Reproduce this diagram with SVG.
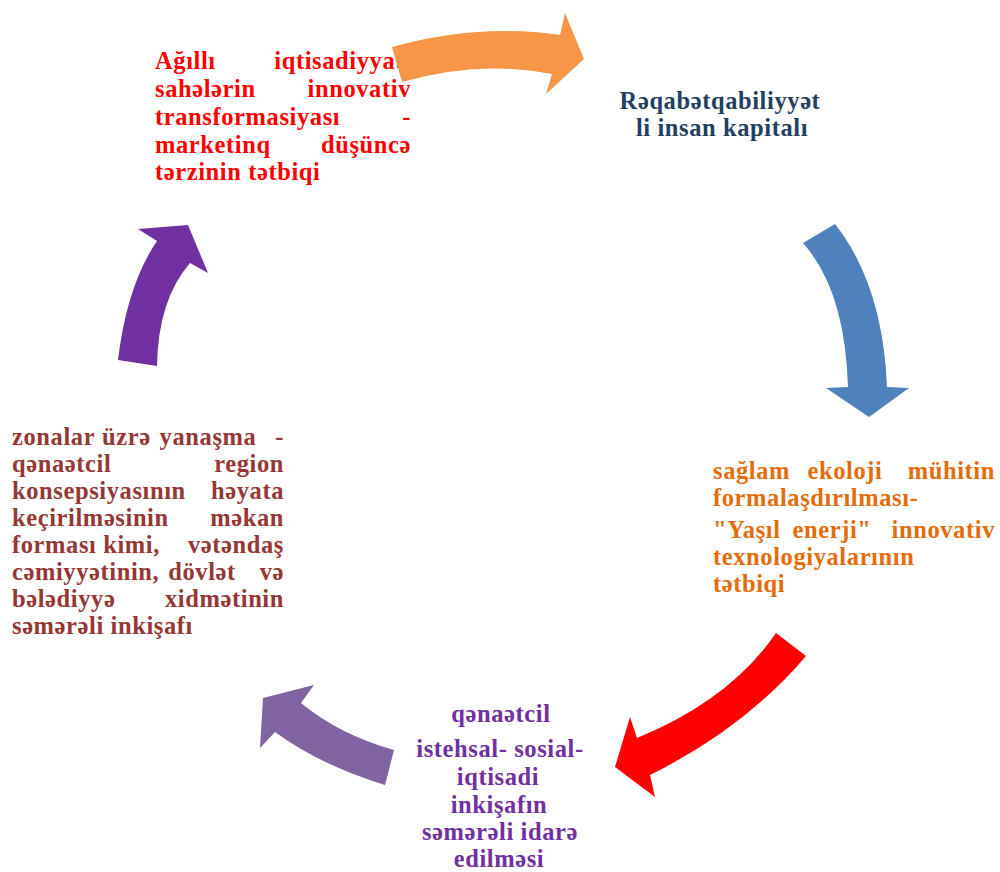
<svg xmlns="http://www.w3.org/2000/svg" width="1000" height="872" viewBox="0 0 1000 872">
<style>
text{font-family:"Liberation Serif","Times New Roman",serif;font-weight:700;font-size:24.5px;letter-spacing:0.6px}
.e{text-anchor:end}
.m{text-anchor:middle}
.n1{fill:#FF0000}
.n2{fill:#243F60}
.n3{fill:#E46C0A}
.n4{fill:#7030A0}
.n5{fill:#953735}
</style>
<rect width="1000" height="872" fill="#FFFFFF"/>
<g id="node-smart-economy" class="n1">
<text x="155" y="69">Ağıllı</text><text x="404" y="69" class="e">iqtisadiyyat</text>
<text x="155" y="97">sahələrin</text><text x="411" y="97" class="e">innovativ</text>
<text x="155" y="125">transformasiyası</text><text x="411" y="125" class="e">-</text>
<text x="155" y="153">marketinq</text><text x="411" y="153" class="e">düşüncə</text>
<text x="155" y="180">tərzinin tətbiqi</text>
</g>
<g id="node-human-capital" class="n2">
<text x="720" y="109" class="m">Rəqabətqabiliyyət</text>
<text x="722" y="136" class="m">li insan kapitalı</text>
</g>
<g id="node-ecology" class="n3">
<text x="713" y="479">sağlam</text><text x="845" y="479" class="m">ekoloji</text><text x="995" y="479" class="e">mühitin</text>
<text x="713" y="506">formalaşdırılması-</text>
<text x="713" y="538">"Yaşıl</text><text x="832" y="538" class="m">enerji"</text><text x="995" y="538" class="e">innovativ</text>
<text x="713" y="565">texnologiyalarının</text>
<text x="713" y="592">tətbiqi</text>
</g>
<g id="node-production" class="n4">
<text x="501" y="722" class="m">qənaətcil</text>
<text x="500" y="757" class="m">istehsal- sosial-</text>
<text x="498" y="785" class="m">iqtisadi</text>
<text x="499" y="813" class="m">inkişafın</text>
<text x="500" y="840" class="m">səmərəli idarə</text>
<text x="499" y="867" class="m">edilməsi</text>
</g>
<g id="node-zonal" class="n5">
<text x="12" y="445">zonalar</text><text x="102" y="445">üzrə</text><text x="208" y="445" class="m">yanaşma</text><text x="284" y="445" class="e">-</text>
<text x="12" y="472">qənaətcil</text><text x="284" y="472" class="e">region</text>
<text x="12" y="499">konsepsiyasının</text><text x="284" y="499" class="e">həyata</text>
<text x="12" y="526">keçirilməsinin</text><text x="284" y="526" class="e">məkan</text>
<text x="12" y="553">forması kimi,</text><text x="284" y="553" class="e">vətəndaş</text>
<text x="12" y="580">cəmiyyətinin,</text><text x="202" y="580" class="m">dövlət</text><text x="284" y="580" class="e">və</text>
<text x="12" y="607">bələdiyyə</text><text x="284" y="607" class="e">xidmətinin</text>
<text x="12" y="634">səmərəli inkişafı</text>
</g>
<g id="connectors">
<path id="arrow-orange" fill="#F79646" d="M392,47 Q478,23 560,35 L565,13 L584,59 L546,94 L552,74 Q480,60 402,82 Z"/>
<path id="arrow-blue" fill="#4F81BD" d="M835,224 Q883,285 887,387 L909,388 L869,417 L826,388 L848,387 Q845,290 803,243 Z"/>
<path id="arrow-red" fill="#FF0000" d="M806,656 Q745,728 650,775 L655,797 L615,767 L630,717 L637,738 Q730,700 776,633 Z"/>
<path id="arrow-lilac" fill="#8064A2" d="M385,785 Q320,765 275,732 L260,748 L263,698 L314,685 L301,703 Q340,735 394,750 Z"/>
<path id="arrow-purple" fill="#7030A0" d="M157,366 Q158,300 190,263 L208,273 L188,225 L138,229 L157,241 Q127,285 118,360 Z"/>
</g>
</svg>
